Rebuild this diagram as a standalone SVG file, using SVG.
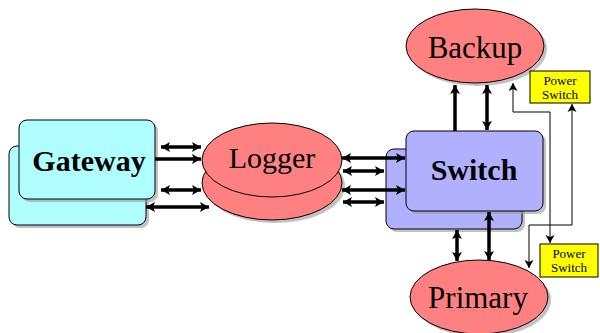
<svg xmlns="http://www.w3.org/2000/svg" width="600" height="333" viewBox="0 0 600 333">
<defs>
<marker id="ah" viewBox="-11 -6 12 12" refX="0" refY="0" markerWidth="12" markerHeight="12" markerUnits="userSpaceOnUse" orient="auto-start-reverse">
<path d="M0,0 L-9,-5 L-7,0 L-9,5 Z" fill="#000"/>
</marker>
<marker id="ahs" viewBox="-11 -6 12 12" refX="0" refY="0" markerWidth="12" markerHeight="12" markerUnits="userSpaceOnUse" orient="auto-start-reverse">
<path d="M0,0 L-8,-4.5 L-6,0 L-8,4.5 Z" fill="#000"/>
</marker>
</defs>
<style>
.sh{fill:#999;stroke:none;opacity:0.6}
.gw{fill:#b0ffff;stroke:#000;stroke-width:1}
.sw{fill:#b0b0ff;stroke:#000;stroke-width:1}
.el{fill:#ff8080;stroke:#000;stroke-width:1}
.ps{fill:#ffff00;stroke:#000;stroke-width:1}
.t{font-family:"Liberation Serif","Times New Roman",serif;text-anchor:middle;fill:#000}
.big{font-size:30px}
.b{font-weight:bold}
.sm{font-size:13px}
.thick{stroke:#000;stroke-width:3.5;fill:none}
.thin{stroke:#000;stroke-width:1;fill:none}
</style>
<g id="gateway">
<rect class="sh" x="12" y="149" width="137" height="79" rx="8"/>
<rect class="gw" x="9" y="146" width="137" height="79" rx="8"/>
<rect class="sh" x="22" y="123" width="136" height="79" rx="8"/>
<rect class="gw" x="19" y="120" width="136" height="79" rx="8"/>
<text class="t big b" x="89" y="171">Gateway</text>
</g>
<g id="logger">
<ellipse class="sh" cx="275" cy="186" rx="70" ry="37"/>
<ellipse class="el" cx="272" cy="183" rx="70" ry="37"/>
<ellipse class="el" cx="272" cy="160" rx="70" ry="37"/>
<text class="t big" x="272" y="168">Logger</text>
</g>
<g id="switch">
<rect class="sh" x="389" y="152" width="136" height="80" rx="8"/>
<rect class="sw" x="386" y="149" width="136" height="80" rx="8"/>
<rect class="sh" x="409" y="134" width="137" height="80" rx="8"/>
<rect class="sw" x="406" y="131" width="137" height="80" rx="8"/>
<text class="t big b" x="474" y="180">Switch</text>
</g>
<g id="backup">
<ellipse class="sh" cx="478" cy="49" rx="69" ry="37"/>
<ellipse class="el" cx="475" cy="46" rx="69" ry="37"/>
<text class="t big" x="475" y="58" style="font-size:31px">Backup</text>
</g>
<g id="primary">
<ellipse class="sh" cx="482" cy="300" rx="69" ry="37"/>
<ellipse class="el" cx="479" cy="297" rx="69" ry="37"/>
<text class="t big" x="478" y="308" style="font-size:31px">Primary</text>
</g>
<g id="power-switch-1">
<rect class="ps" x="530" y="71" width="60" height="32"/>
<text class="t sm" x="560" y="85">Power</text>
<text class="t sm" x="560" y="99">Switch</text>
</g>
<g id="power-switch-2">
<rect class="ps" x="540" y="244" width="58" height="33"/>
<text class="t sm" x="569" y="258">Power</text>
<text class="t sm" x="569" y="272">Switch</text>
</g>
<g id="connectors">
<line class="thick" x1="161" y1="147" x2="201" y2="147" marker-start="url(#ah)" marker-end="url(#ah)"/>
<line class="thick" x1="155" y1="159" x2="201" y2="159" marker-end="url(#ah)"/>
<line class="thick" x1="161" y1="190" x2="201" y2="190" marker-start="url(#ah)" marker-end="url(#ah)"/>
<line class="thick" x1="146" y1="207" x2="209" y2="207" marker-start="url(#ah)" marker-end="url(#ah)"/>
<line class="thick" x1="342" y1="158" x2="405" y2="158" marker-start="url(#ah)" marker-end="url(#ah)"/>
<line class="thick" x1="343" y1="171" x2="384" y2="171" marker-start="url(#ah)" marker-end="url(#ah)"/>
<line class="thick" x1="342" y1="190" x2="405" y2="190" marker-start="url(#ah)" marker-end="url(#ah)"/>
<line class="thick" x1="343" y1="202" x2="384" y2="202" marker-start="url(#ah)" marker-end="url(#ah)"/>
<line class="thick" x1="455" y1="131" x2="455" y2="85" marker-end="url(#ah)"/>
<line class="thick" x1="487" y1="85" x2="487" y2="130" marker-start="url(#ah)" marker-end="url(#ah)"/>
<line class="thick" x1="457" y1="230" x2="457" y2="261" marker-start="url(#ah)" marker-end="url(#ah)"/>
<line class="thick" x1="489" y1="212" x2="489" y2="260" marker-start="url(#ah)" marker-end="url(#ah)"/>
<polyline class="thin" points="513,83 513,112 550,112 550,243" marker-start="url(#ahs)" marker-end="url(#ahs)"/>
<polyline class="thin" points="572,104 572,225 529,225 529,268" marker-start="url(#ahs)" marker-end="url(#ahs)"/>
</g>
</svg>
